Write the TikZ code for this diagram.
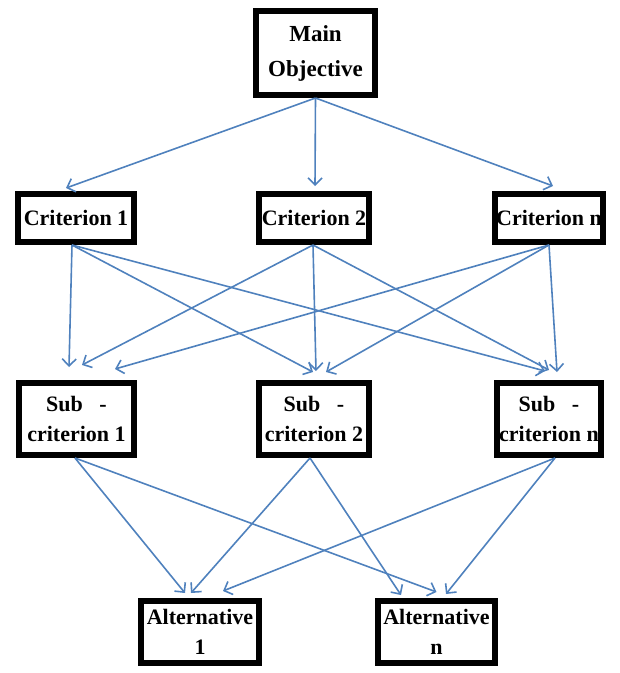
\documentclass[tikz,border=0pt]{standalone}
\usepackage{fontspec}
\setmainfont{Liberation Serif}
\usetikzlibrary{arrows.meta}
\definecolor{arrowblue}{HTML}{4F81BD}
\tikzset{
  box/.style={draw=black, line width=6pt, fill=white, rectangle, inner sep=1pt,
    align=center, font=\fontsize{22}{30}\selectfont\bfseries},
  link/.style={draw=arrowblue, line width=1.6pt,
    -{Straight Barb[length=7pt,width=14pt,line width=1.6pt]}}
}
\begin{document}
\begin{tikzpicture}[x=1pt,y=-1pt]
\useasboundingbox (0,0) rectangle (620,673);
\node[box, minimum width=119pt, minimum height=84pt, font=\fontsize{23}{35}\selectfont\bfseries] (main) at (315.5,53) {Main\\Objective};
\node[box, minimum width=116pt, minimum height=48pt] (c1) at (76,218) {Criterion 1};
\node[box, minimum width=110pt, minimum height=48pt] (c2) at (314,218) {Criterion 2};
\node[box, minimum width=104pt, minimum height=48pt] (cn) at (549,218) {Criterion n};
\node[box, minimum width=115pt, minimum height=72pt] (s1) at (76.5,419) {Sub\ \ \ -\\criterion 1};
\node[box, minimum width=110pt, minimum height=72pt] (s2) at (314,419) {Sub\ \ \ -\\criterion 2};
\node[box, minimum width=104pt, minimum height=72pt] (sn) at (549,419) {Sub\ \ \ -\\criterion n};
\node[box, minimum width=118pt, minimum height=62pt] (a1) at (200,632) {Alternative\\1};
\node[box, minimum width=117pt, minimum height=62pt] (an) at (436.5,632) {Alternative\\n};
% main to criteria
\draw[link] (main.south) -- ([xshift=-10pt,yshift=3pt]c1.north);
\draw[link] (main.south) -- ([xshift=1pt,yshift=5pt]c2.north);
\draw[link] (main.south) -- ([xshift=4pt,yshift=5pt]cn.north);
% criteria to sub-criteria
\draw[link] ([xshift=-4pt]c1.south) -- ([xshift=-7.5pt,yshift=13pt]s1.north);
\draw[link] ([xshift=-4pt]c1.south) -- ([xshift=-1pt,yshift=8pt]s2.north);
\draw[link] ([xshift=-4pt]c1.south) -- ([xshift=-4pt,yshift=9pt]sn.north);
\draw[link] ([xshift=-1pt]c2.south) -- ([xshift=5.5pt,yshift=15pt]s1.north);
\draw[link] ([xshift=-1pt]c2.south) -- ([xshift=2pt,yshift=9pt]s2.north);
\draw[link] ([xshift=-1pt]c2.south) -- ([xshift=0pt,yshift=10pt]sn.north);
\draw[link] (cn.south) -- ([xshift=38.5pt,yshift=11pt]s1.north);
\draw[link] (cn.south) -- ([xshift=12pt,yshift=8pt]s2.north);
\draw[link] (cn.south) -- ([xshift=8pt,yshift=8pt]sn.north);
% sub-criteria to alternatives
\draw[link] ([xshift=-1.5pt]s1.south) -- ([xshift=-15pt,yshift=5pt]a1.north);
\draw[link] ([xshift=-1.5pt]s1.south) -- ([xshift=0pt,yshift=6pt]an.north);
\draw[link] ([xshift=-4pt]s2.south) -- ([xshift=-9pt,yshift=5pt]a1.north);
\draw[link] ([xshift=-4pt]s2.south) -- ([xshift=-35.5pt,yshift=3pt]an.north);
\draw[link] ([xshift=6pt]sn.south) -- ([xshift=23pt,yshift=7pt]a1.north);
\draw[link] ([xshift=6pt]sn.south) -- ([xshift=9.5pt,yshift=4pt]an.north);
\end{tikzpicture}
\end{document}
